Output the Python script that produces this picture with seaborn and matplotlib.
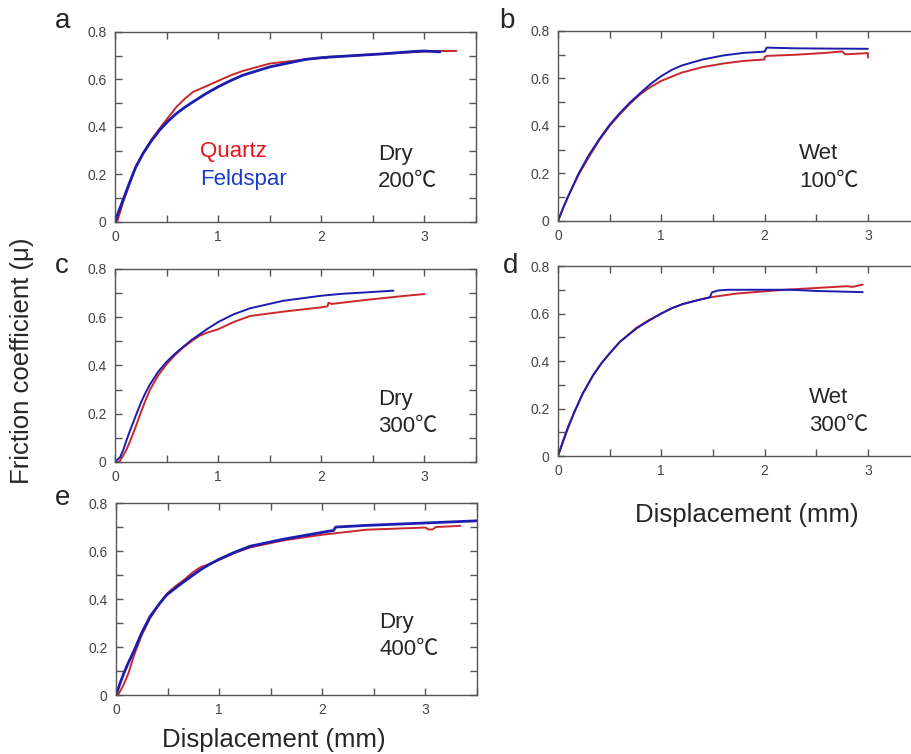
import matplotlib
matplotlib.use('Agg')
import matplotlib.pyplot as plt
import seaborn as sns
from matplotlib.ticker import MultipleLocator, FuncFormatter

# Friction curves: displacement (mm) and friction coefficient
# a: Dry 200C
a_qz_x = [0.02, 0.08, 0.145, 0.2, 0.274, 0.35, 0.435, 0.516, 0.597, 0.68, 0.758, 0.85, 1.0, 1.12, 1.24, 1.5, 1.855, 2.0, 2.05, 2.06, 2.3, 2.6, 2.9, 3.1, 3.31]
a_qz_y = [0.0, 0.085, 0.165, 0.23, 0.29, 0.345, 0.395, 0.44, 0.485, 0.52, 0.548, 0.565, 0.594, 0.617, 0.636, 0.667, 0.685, 0.69, 0.69, 0.695, 0.70, 0.708, 0.715, 0.72, 0.72]
a_fs_x = [0.0, 0.04, 0.08, 0.145, 0.2, 0.274, 0.35, 0.435, 0.52, 0.597, 0.68, 0.758, 0.88, 1.0, 1.12, 1.24, 1.5, 1.855, 2.0, 2.3, 2.6, 2.9, 3.0, 3.15]
a_fs_y = [0.0, 0.05, 0.095, 0.17, 0.23, 0.29, 0.34, 0.388, 0.427, 0.457, 0.484, 0.506, 0.54, 0.569, 0.595, 0.618, 0.653, 0.685, 0.692, 0.70, 0.708, 0.718, 0.72, 0.716]

# b: Wet 100C
b_qz_x = [0.0, 0.05, 0.1, 0.2, 0.3, 0.4, 0.5, 0.6, 0.7, 0.8, 0.9, 1.0, 1.2, 1.4, 1.6, 1.8, 2.0, 2.0, 2.02, 2.3, 2.6, 2.75, 2.78, 2.8, 3.0, 3.0]
b_qz_y = [0.0, 0.055, 0.105, 0.195, 0.27, 0.34, 0.4, 0.45, 0.495, 0.535, 0.565, 0.59, 0.625, 0.648, 0.663, 0.674, 0.68, 0.69, 0.695, 0.70, 0.708, 0.714, 0.702, 0.702, 0.707, 0.688]
b_fs_x = [0.0, 0.05, 0.1, 0.2, 0.3, 0.4, 0.5, 0.6, 0.7, 0.8, 0.9, 1.0, 1.1, 1.2, 1.4, 1.6, 1.8, 2.0, 2.02, 2.3, 2.6, 3.0]
b_fs_y = [0.0, 0.055, 0.105, 0.2, 0.278, 0.345, 0.405, 0.455, 0.5, 0.54, 0.578, 0.61, 0.636, 0.655, 0.68, 0.697, 0.708, 0.713, 0.73, 0.727, 0.726, 0.725]

# c: Dry 300C
c_qz_x = [0.02, 0.04, 0.07, 0.11, 0.15, 0.2, 0.25, 0.3, 0.34, 0.42, 0.5, 0.58, 0.66, 0.74, 0.82, 0.9, 1.0, 1.15, 1.31, 1.63, 2.0, 2.06, 2.07, 2.1, 2.44, 2.8, 3.0]
c_qz_y = [0.0, 0.0, 0.02, 0.05, 0.09, 0.145, 0.205, 0.26, 0.3, 0.36, 0.405, 0.442, 0.474, 0.5, 0.523, 0.537, 0.55, 0.58, 0.605, 0.623, 0.641, 0.645, 0.66, 0.655, 0.672, 0.688, 0.696]
c_fs_x = [0.0, 0.05, 0.08, 0.11, 0.15, 0.2, 0.25, 0.3, 0.34, 0.42, 0.5, 0.58, 0.66, 0.74, 0.82, 0.9, 1.0, 1.15, 1.31, 1.63, 2.0, 2.2, 2.44, 2.7]
c_fs_y = [0.0, 0.02, 0.05, 0.088, 0.135, 0.19, 0.245, 0.29, 0.322, 0.375, 0.415, 0.448, 0.477, 0.505, 0.529, 0.553, 0.58, 0.612, 0.637, 0.668, 0.689, 0.697, 0.703, 0.71]

# d: Wet 300C
d_qz_x = [0.0, 0.05, 0.1, 0.16, 0.24, 0.34, 0.42, 0.5, 0.6, 0.76, 0.88, 1.0, 1.1, 1.21, 1.35, 1.47, 1.73, 1.9, 2.2, 2.6, 2.8, 2.85, 2.95]
d_qz_y = [0.0, 0.06, 0.12, 0.185, 0.262, 0.34, 0.39, 0.432, 0.481, 0.54, 0.572, 0.6, 0.622, 0.64, 0.656, 0.668, 0.684, 0.69, 0.70, 0.71, 0.715, 0.712, 0.722]
d_fs_x = [0.0, 0.05, 0.1, 0.16, 0.24, 0.34, 0.42, 0.5, 0.6, 0.76, 0.88, 1.0, 1.1, 1.21, 1.35, 1.47, 1.49, 1.55, 1.65, 2.25, 2.5, 2.95]
d_fs_y = [0.0, 0.065, 0.125, 0.187, 0.264, 0.34, 0.39, 0.432, 0.481, 0.537, 0.57, 0.6, 0.622, 0.64, 0.656, 0.668, 0.689, 0.697, 0.70, 0.70, 0.695, 0.69]

# e: Dry 400C
e_qz_x = [0.02, 0.07, 0.12, 0.17, 0.25, 0.33, 0.42, 0.5, 0.58, 0.66, 0.74, 0.82, 0.9, 1.0, 1.15, 1.3, 1.63, 2.0, 2.43, 3.0, 3.03, 3.07, 3.1, 3.34]
e_qz_y = [0.0, 0.04, 0.09, 0.16, 0.25, 0.32, 0.38, 0.425, 0.455, 0.48, 0.51, 0.533, 0.545, 0.563, 0.592, 0.615, 0.645, 0.668, 0.689, 0.698, 0.69, 0.69, 0.70, 0.705]
e_fs_x = [0.0, 0.04, 0.075, 0.12, 0.17, 0.25, 0.33, 0.42, 0.49, 0.58, 0.66, 0.74, 0.82, 0.9, 1.0, 1.15, 1.3, 1.63, 2.0, 2.11, 2.13, 2.43, 3.0, 3.5]
e_fs_y = [0.0, 0.05, 0.09, 0.135, 0.18, 0.26, 0.327, 0.38, 0.417, 0.447, 0.473, 0.498, 0.522, 0.543, 0.566, 0.595, 0.62, 0.65, 0.678, 0.686, 0.70, 0.707, 0.717, 0.726]

panel_letters = ['a', 'b', 'c', 'd', 'e']
conditions = ['Dry\n200℃', 'Wet\n100℃', 'Dry\n300℃', 'Wet\n300℃', 'Dry\n400℃']

sns.set_style('ticks')
plt.rcParams['font.family'] = ['Liberation Sans', 'DejaVu Sans']

QZ = '#c8282c'
FS = '#1c1cb0'
GRAY = '#555555'

fig = plt.figure(figsize=(9.12, 7.54), dpi=100)

# axes positions in figure fractions
rects = [
    [0.1261, 0.7056, 0.3958, 0.2520],
    [0.6118, 0.7069, 0.3965, 0.2520],
    [0.1261, 0.3873, 0.3958, 0.2560],
    [0.6118, 0.3952, 0.3965, 0.2520],
    [0.1272, 0.0782, 0.3958, 0.2546],
]
data = [
    (a_qz_x, a_qz_y, a_fs_x, a_fs_y),
    (b_qz_x, b_qz_y, b_fs_x, b_fs_y),
    (c_qz_x, c_qz_y, c_fs_x, c_fs_y),
    (d_qz_x, d_qz_y, d_fs_x, d_fs_y),
    (e_qz_x, e_qz_y, e_fs_x, e_fs_y),
]
fs_width = [2.0, 1.4, 1.4, 1.4, 2.0]
cond_pos = [(0.729, 0.326, 0.184), (0.667, 0.326, 0.179), (0.729, 0.295, 0.155),
            (0.694, 0.279, 0.132), (0.729, 0.349, 0.208)]
letter_pos = [(55, 28), (499, 28), (55, 273), (503, 273), (55, 505)]
cond_font = ['Liberation Sans', 'Noto Sans CJK JP', 'DejaVu Sans']

axes = []
for i, r in enumerate(rects):
    ax = fig.add_axes(r)
    qx, qy, fx, fy = data[i]
    sns.lineplot(x=qx, y=qy, ax=ax, color=QZ, lw=1.4, sort=False, estimator=None)
    sns.lineplot(x=fx, y=fy, ax=ax, color=FS, lw=fs_width[i], sort=False, estimator=None)
    ax.set_xlim(0, 3.5)
    ax.set_ylim(0, 0.8)
    ax.xaxis.set_major_locator(MultipleLocator(1))
    ax.xaxis.set_minor_locator(MultipleLocator(0.5))
    ax.yaxis.set_major_locator(MultipleLocator(0.2))
    ax.yaxis.set_minor_locator(MultipleLocator(0.1))
    ax.yaxis.set_major_formatter(FuncFormatter(lambda v, p: f'{v:g}'))
    ax.tick_params(which='both', direction='in', top=True, right=True, length=5,
                   width=1, color=GRAY, labelcolor='#444444', labelsize=10, pad=6)
    for s in ax.spines.values():
        s.set_color(GRAY)
        s.set_linewidth(1)
    ax.set_xlabel('')
    ax.set_ylabel('')
    cx, y1, y2 = cond_pos[i]
    t1, t2 = conditions[i].split('\n')
    ax.text(cx, y1, t1, transform=ax.transAxes, fontsize=16, va='baseline', family=cond_font)
    ax.text(cx, y2, t2, transform=ax.transAxes, fontsize=16, va='baseline', family=cond_font)
    lx, ly = letter_pos[i]
    fig.text(lx / 912, 1 - ly / 754, panel_letters[i], fontsize=20, va='baseline')
    axes.append(ax)

# legend-like labels in panel a
axes[0].text(0.235, 0.342, 'Quartz', color='#e8141c', fontsize=16,
             transform=axes[0].transAxes, va='baseline')
axes[0].text(0.235, 0.195, 'Feldspar', color='#1a3ccc', fontsize=16,
             transform=axes[0].transAxes, va='baseline')

# shared axis labels
fig.text(274 / 912, 1 - 747 / 754, 'Displacement (mm)', fontsize=18.5, ha='center', va='baseline')
fig.text(747 / 912, 1 - 522 / 754, 'Displacement (mm)', fontsize=18.5, ha='center', va='baseline')
fig.text(22 / 912, 1 - 361 / 754, 'Friction coefficient (μ)', fontsize=18.5,
         rotation=90, ha='center', va='center')

fig.savefig('out.png', dpi=100)
